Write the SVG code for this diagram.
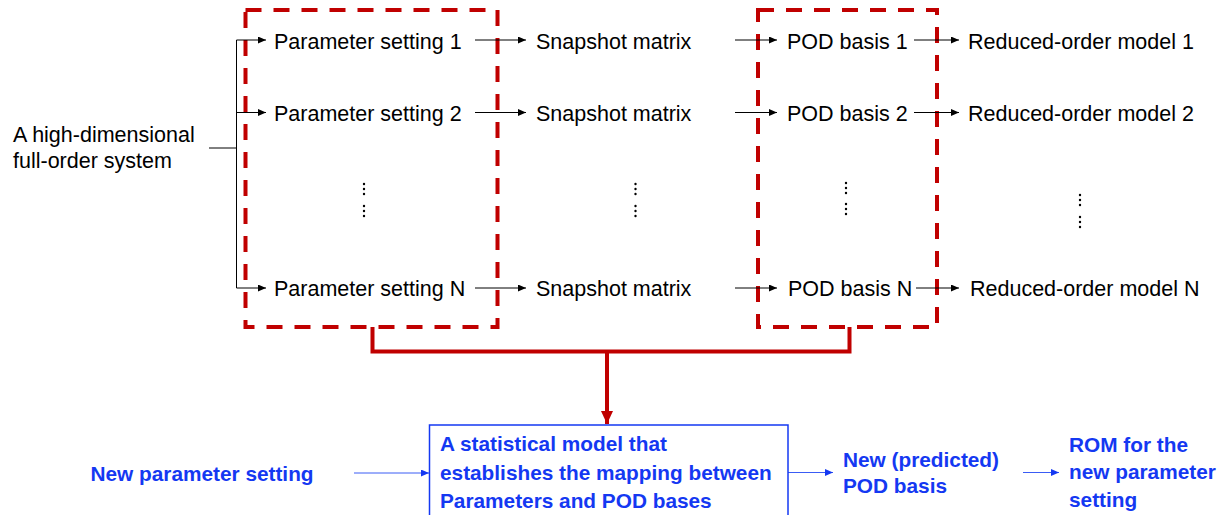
<svg xmlns="http://www.w3.org/2000/svg" width="1228" height="515" viewBox="0 0 1228 515">
<defs>
<style>
.t{font-family:"Liberation Sans",Arial,sans-serif;font-size:21.5px;fill:#000}
.b{font-family:"Liberation Sans",Arial,sans-serif;font-size:20.8px;font-weight:bold;fill:#1438F2}
.k{stroke:#000;stroke-width:1;fill:none}
.bl{stroke:#3A5CF5;stroke-width:1;fill:none}
.dash{stroke:#C00000;stroke-width:4;fill:none;stroke-dasharray:16 12}
.red{stroke:#C00000;stroke-width:4;fill:none}
.dot{fill:#000}
</style>
<marker id="ak" markerUnits="userSpaceOnUse" markerWidth="9" markerHeight="8" refX="8" refY="3.5" orient="auto"><path d="M0,0 L8,3.5 L0,7 z" fill="#000"/></marker>
<marker id="ab" markerUnits="userSpaceOnUse" markerWidth="9" markerHeight="8" refX="8" refY="3.5" orient="auto"><path d="M0,0 L8,3.5 L0,7 z" fill="#1438F2"/></marker>
<marker id="ar" markerUnits="userSpaceOnUse" markerWidth="14" markerHeight="14" refX="13" refY="6" orient="auto"><path d="M0,0 L13,6 L0,12 z" fill="#C00000"/></marker>
</defs>

<g id="groups">
<rect id="box-params" class="dash" x="245.5" y="10" width="252" height="317"/>
<rect id="box-pod" class="dash" x="758" y="10" width="179" height="317"/>
</g>

<g id="connectors">
<path class="k" d="M209,148 H236.5 M236.5,40 V288"/>
<path class="k" d="M236.5,40 H266" marker-end="url(#ak)"/>
<path class="k" d="M236.5,112.5 H266" marker-end="url(#ak)"/>
<path class="k" d="M236.5,288 H266" marker-end="url(#ak)"/>
<path class="k" d="M475,40 H526" marker-end="url(#ak)"/>
<path class="k" d="M475,112.5 H526" marker-end="url(#ak)"/>
<path class="k" d="M475,288 H526" marker-end="url(#ak)"/>
<path class="k" d="M735,40 H777" marker-end="url(#ak)"/>
<path class="k" d="M735,112.5 H777" marker-end="url(#ak)"/>
<path class="k" d="M735,288 H777" marker-end="url(#ak)"/>
<path class="k" d="M914,40 H959" marker-end="url(#ak)"/>
<path class="k" d="M914,112.5 H959" marker-end="url(#ak)"/>
<path class="k" d="M916,288 H959" marker-end="url(#ak)"/>
<path class="red" d="M372.5,327 V351.5 H849.5 V327"/>
<path class="red" d="M607,351.5 V424" marker-end="url(#ar)"/>
<path class="bl" d="M354,473 H429" marker-end="url(#ab)"/>
<path class="bl" d="M788,472.5 H833" marker-end="url(#ab)"/>
<path class="bl" d="M1023,472.5 H1059" marker-end="url(#ab)"/>
</g>

<g id="full-order"><text class="t" x="13" y="141.5">A high-dimensional</text><text class="t" x="13" y="168">full-order system</text></g>

<g id="param1"><text class="t" x="274" y="48.5">Parameter setting 1</text></g>
<g id="param2"><text class="t" x="274" y="120.8">Parameter setting 2</text></g>
<g id="paramN"><text class="t" x="274" y="296.3">Parameter setting N</text></g>

<g id="snap1"><text class="t" x="536" y="48.5">Snapshot matrix</text></g>
<g id="snap2"><text class="t" x="536" y="120.8">Snapshot matrix</text></g>
<g id="snapN"><text class="t" x="536" y="296.3">Snapshot matrix</text></g>

<g id="pod1"><text class="t" x="787" y="48.5">POD basis 1</text></g>
<g id="pod2"><text class="t" x="787" y="120.8">POD basis 2</text></g>
<g id="podN"><text class="t" x="788" y="296.3">POD basis N</text></g>

<g id="rom1"><text class="t" x="968" y="48.5">Reduced-order model 1</text></g>
<g id="rom2"><text class="t" x="968" y="120.8">Reduced-order model 2</text></g>
<g id="romN"><text class="t" x="970" y="296.3">Reduced-order model N</text></g>

<g id="ellipses">
<circle class="dot" cx="364" cy="184" r="1.2"/><circle class="dot" cx="364" cy="189" r="1.2"/><circle class="dot" cx="364" cy="194" r="1.2"/>
<circle class="dot" cx="364" cy="206" r="1.2"/><circle class="dot" cx="364" cy="211" r="1.2"/><circle class="dot" cx="364" cy="216" r="1.2"/>
<circle class="dot" cx="635.5" cy="184" r="1.2"/><circle class="dot" cx="635.5" cy="189" r="1.2"/><circle class="dot" cx="635.5" cy="194" r="1.2"/>
<circle class="dot" cx="635.5" cy="206" r="1.2"/><circle class="dot" cx="635.5" cy="211" r="1.2"/><circle class="dot" cx="635.5" cy="216" r="1.2"/>
<circle class="dot" cx="846" cy="183" r="1.2"/><circle class="dot" cx="846" cy="188" r="1.2"/><circle class="dot" cx="846" cy="193" r="1.2"/>
<circle class="dot" cx="846" cy="204" r="1.2"/><circle class="dot" cx="846" cy="209" r="1.2"/><circle class="dot" cx="846" cy="214" r="1.2"/>
<circle class="dot" cx="1080" cy="195" r="1.2"/><circle class="dot" cx="1080" cy="200" r="1.2"/><circle class="dot" cx="1080" cy="205" r="1.2"/>
<circle class="dot" cx="1080" cy="217" r="1.2"/><circle class="dot" cx="1080" cy="222" r="1.2"/><circle class="dot" cx="1080" cy="227" r="1.2"/>
</g>

<g id="new-param"><text class="b" x="90.5" y="480.5">New parameter setting</text></g>

<g id="stat-model">
<rect x="429.5" y="425" width="358.5" height="110" fill="#fff" stroke="#1438F2" stroke-width="1.5"/>
<text class="b" x="440" y="451">A statistical model that</text>
<text class="b" x="440" y="479.5">establishes the mapping between</text>
<text class="b" x="440" y="508">Parameters and POD bases</text>
</g>

<g id="new-pod"><text class="b" x="843" y="466.5">New (predicted)</text><text class="b" x="843" y="493">POD basis</text></g>

<g id="rom-new"><text class="b" x="1069" y="451.5">ROM for the</text><text class="b" x="1069" y="478.5">new parameter</text><text class="b" x="1069" y="506.5">setting</text></g>
</svg>
